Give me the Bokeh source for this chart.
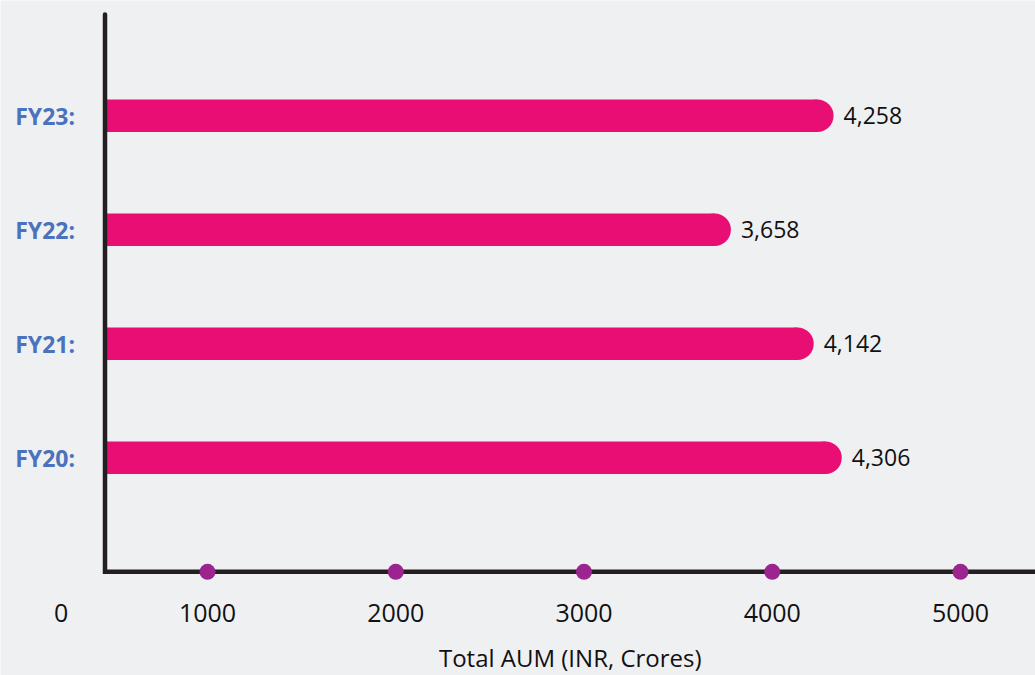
from bokeh.plotting import figure
from bokeh.models import Range1d, ColumnDataSource
from bokeh.core.properties import value
from bokeh.embed import file_html
from bokeh.resources import INLINE

# ---------------- data ----------------
CATEGORIES = ["FY20:", "FY21:", "FY22:", "FY23:"]
AUM = [4306, 4142, 3658, 4258]
TICK_VALUES = [0, 1000, 2000, 3000, 4000, 5000]
TICK_LABELS = ["0", "1000", "2000", "3000", "4000", "5000"]
AXIS_TITLE = "Total AUM (INR, Crores)"

# ---------------- layout / style ----------------
W, H = 1035, 675
X0_PX, X_PX_PER_UNIT = 104.5, 0.1711          # bar scale
T0_PX, T_PX_PER_UNIT = 18.75, 0.18825         # tick-dot scale
Y0_PX, Y_STEP_PX = 457.3, 114.0               # first category centre, spacing
BAR_PX = 32.6
BG = "#eff0f1"
BAR_COLOR = "#e90e73"
DOT_COLOR = "#9c2491"
AXIS_COLOR = "#231f20"
CAT_COLOR = "#4a72bd"
TEXT_COLOR = "#111111"
FONT = value("Open Sans")

x_start = -X0_PX / X_PX_PER_UNIT
x_end = (W - X0_PX) / X_PX_PER_UNIT
t_start = -T0_PX / T_PX_PER_UNIT
t_end = (W - T0_PX) / T_PX_PER_UNIT
y_start = -(H - Y0_PX) / Y_STEP_PX
y_end = Y0_PX / Y_STEP_PX

p = figure(width=W, height=H, x_range=Range1d(x_start, x_end),
           y_range=Range1d(y_start, y_end), x_axis_type=None, y_axis_type=None,
           toolbar_location=None, output_backend="svg", min_border=0)
p.extra_x_ranges = {"ticks": Range1d(t_start, t_end)}
p.background_fill_color = BG
p.border_fill_color = BG
p.outline_line_color = None

idx = list(range(len(CATEGORIES)))
axis_y = -1.0
r_data = (BAR_PX / 2) / X_PX_PER_UNIT
bar_h = BAR_PX / Y_STEP_PX

bars = ColumnDataSource(dict(
    y=idx, cat=CATEGORIES, val=AUM,
    right=[v - r_data for v in AUM],
    label=[f"{v:,}" for v in AUM],
    zero=[0] * len(AUM),
))

# bars with rounded right end
p.hbar(y="y", left=0, right="right", height=bar_h, source=bars,
       fill_color=BAR_COLOR, line_color=None)
p.scatter(x="right", y="y", size=BAR_PX, marker="circle", source=bars,
          fill_color=BAR_COLOR, line_color=None)

# axis lines
top_y = (Y0_PX - 14) / Y_STEP_PX
p.line(x=[0, 0, x_end + 100], y=[top_y, axis_y, axis_y], line_color=AXIS_COLOR,
       line_width=4.5, line_join="miter", line_cap="round")

# tick dots
p.scatter(x=TICK_VALUES[1:], y=[axis_y] * (len(TICK_VALUES) - 1), size=16,
          marker="circle", fill_color=DOT_COLOR, line_color=None,
          x_range_name="ticks")

# tick labels
ticks = ColumnDataSource(dict(
    x=TICK_VALUES, y=[axis_y] * len(TICK_VALUES), text=TICK_LABELS,
    xoff=[42] + [0] * (len(TICK_VALUES) - 1),
))
p.text(x="x", y="y", text="text", source=ticks, x_range_name="ticks",
       x_offset="xoff", y_offset=41, text_align="center", text_baseline="middle",
       text_font=FONT, text_font_size="25px", text_color=TEXT_COLOR)

# category labels
p.text(x="zero", y="y", text="cat", source=bars, x_offset=-30,
       text_align="right", text_baseline="middle", text_font=FONT,
       text_font_style="bold", text_font_size="23px", text_color=CAT_COLOR)

# value labels
p.text(x="val", y="y", text="label", source=bars, x_offset=10,
       text_align="left", text_baseline="middle", text_font=FONT,
       text_font_size="23px", text_color=TEXT_COLOR)

# axis title
p.text(x=[(0 + x_end) / 2], y=[axis_y], text=[AXIS_TITLE], y_offset=86,
       text_align="center", text_baseline="middle", text_font=FONT,
       text_font_size="24px", text_color=TEXT_COLOR)

open("out.html", "w").write(file_html(p, INLINE))
